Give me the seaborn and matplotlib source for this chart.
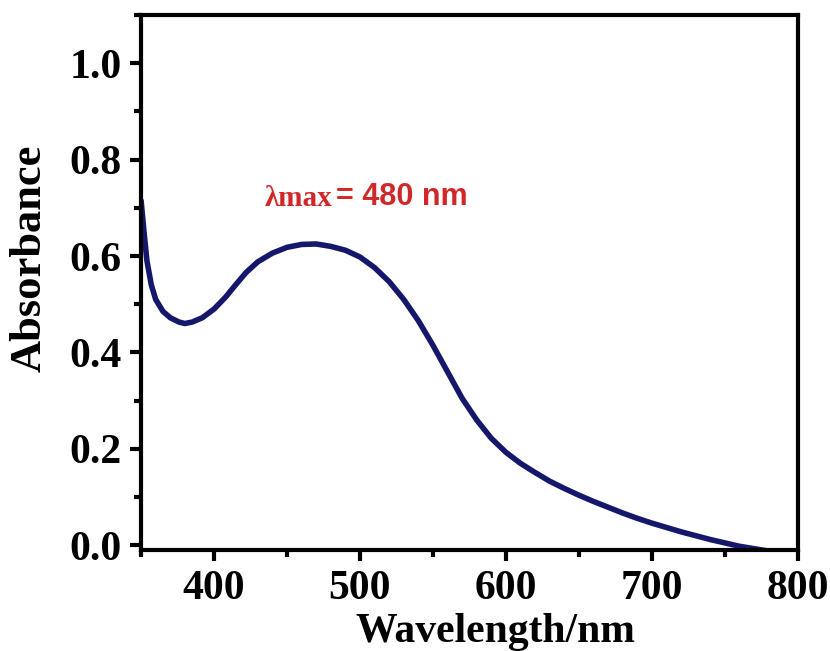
import matplotlib
matplotlib.use("Agg")
import matplotlib.pyplot as plt
from matplotlib.ticker import MultipleLocator
import seaborn as sns
import pandas as pd

# values
wavelength = [350, 352, 354, 357, 360, 365, 370, 376, 380, 385, 392, 400, 408,
              415, 422, 430, 440, 450, 460, 470, 480, 490, 500, 510, 520, 530,
              540, 550, 560, 570, 580, 590, 600, 610, 620, 630, 640, 650, 660,
              670, 680, 690, 700, 710, 720, 730, 740, 750, 760, 770, 780]
absorbance = [0.715, 0.65, 0.59, 0.54, 0.51, 0.485, 0.472, 0.463, 0.46, 0.463,
              0.472, 0.49, 0.515, 0.541, 0.566, 0.588, 0.606, 0.618, 0.624,
              0.625, 0.620, 0.612, 0.598, 0.576, 0.547, 0.510, 0.466, 0.415,
              0.360, 0.305, 0.260, 0.222, 0.193, 0.170, 0.151, 0.133, 0.118,
              0.104, 0.091, 0.079, 0.067, 0.056, 0.046, 0.037, 0.028, 0.020,
              0.012, 0.005, -0.002, -0.007, -0.012]
x_ticks = [400, 500, 600, 700, 800]
y_ticks = [0.0, 0.2, 0.4, 0.6, 0.8, 1.0]
note_head = "\u03bbmax"
note_tail = "= 480 nm"

df = pd.DataFrame({"wl": wavelength, "abs": absorbance})

sns.set_style("ticks")
plt.rcParams["font.family"] = ["Liberation Serif", "DejaVu Serif"]
plt.rcParams["font.weight"] = "bold"
plt.rcParams["text.color"] = "black"
plt.rcParams["axes.labelcolor"] = "black"
plt.rcParams["xtick.color"] = "black"
plt.rcParams["ytick.color"] = "black"

fig = plt.figure(figsize=(8.3, 6.51), dpi=100)
ax = fig.add_axes([0.170, 0.155, 0.791, 0.822])

sns.lineplot(data=df, x="wl", y="abs", ax=ax, color="#15176b", linewidth=4)

ax.set_xlim(350, 800)
ax.set_ylim(-0.01, 1.1)
ax.set_xticks(x_ticks)
ax.set_yticks(y_ticks)
ax.set_xticklabels([str(t) for t in x_ticks])
ax.set_yticklabels([f"{t:.1f}" for t in y_ticks])
ax.xaxis.set_minor_locator(MultipleLocator(50))
ax.yaxis.set_minor_locator(MultipleLocator(0.1))

for s in ax.spines.values():
    s.set_linewidth(3)
    s.set_color("black")
ax.tick_params(which="major", length=8, width=3, labelsize=30, pad=6,
               colors="black")
ax.tick_params(which="minor", length=5, width=3, colors="black")
for lab in ax.get_xticklabels() + ax.get_yticklabels():
    lab.set_fontweight("bold")

ax.set_xlabel("Wavelength/nm", fontsize=30, fontweight="bold")
ax.xaxis.set_label_coords(0.54, -0.118)
ax.set_ylabel("Absorbance", fontsize=32, fontweight="bold")
ax.yaxis.set_label_coords(-0.14, 0.545)

t1 = ax.text(435, 0.704, note_head, color="#d02828", fontsize=21,
             fontweight="bold", ha="left", va="baseline")
ax.annotate(note_tail, xy=(1, 0), xycoords=t1, xytext=(2, 0),
            textcoords="offset points", color="#d02828", fontsize=22,
            fontweight="bold", family="Liberation Sans", ha="left",
            va="bottom")

fig.savefig("out.png", dpi=100)
